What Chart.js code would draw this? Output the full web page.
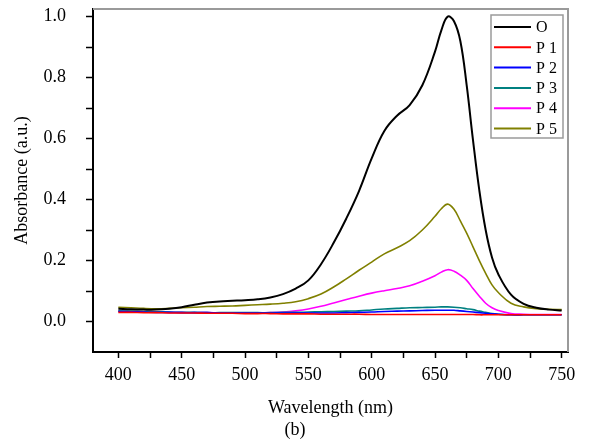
<!DOCTYPE html>
<html lang="en">
<head>
  <meta charset="UTF-8">
  <title>Absorbance spectra</title>
  <script src="https://cdn.jsdelivr.net/npm/chart.js"></script>
  <style>
    body { margin: 0; background: #fff; }
  </style>
</head>
<body>
  <canvas id="grafico" width="590" height="442"></canvas>

  <script>
    // wavelengths (nm) shared by every curve
    const wavelengths = [400,410,420,430,440,450,460,470,480,490,500,510,520,530,540,550,560,570,580,590,600,610,620,630,640,650,655,660,665,670,675,680,685,690,695,700,710,720,730,740,750];

    const seriesNames = ['O', 'P 1', 'P 2', 'P 3', 'P 4', 'P 5'];
    const seriesColors = ['#000000', '#ff0000', '#0000ff', '#008080', '#ff00ff', '#808000'];

    const absO  = [0.042,0.040,0.039,0.039,0.042,0.047,0.055,0.062,0.066,0.068,0.070,0.073,0.079,0.090,0.108,0.135,0.188,0.258,0.338,0.428,0.535,0.625,0.675,0.710,0.775,0.885,0.955,1.000,0.985,0.920,0.775,0.595,0.430,0.300,0.210,0.155,0.088,0.058,0.045,0.039,0.036];
    const absP1 = [0.030,0.030,0.029,0.029,0.028,0.028,0.028,0.027,0.027,0.027,0.026,0.026,0.026,0.025,0.025,0.025,0.024,0.024,0.024,0.024,0.023,0.023,0.023,0.023,0.023,0.023,0.023,0.023,0.023,0.023,0.023,0.023,0.022,0.022,0.022,0.022,0.022,0.022,0.022,0.022,0.022];
    const absP2 = [0.033,0.032,0.031,0.030,0.030,0.029,0.029,0.029,0.028,0.028,0.028,0.028,0.028,0.028,0.028,0.028,0.028,0.028,0.029,0.030,0.031,0.033,0.034,0.035,0.036,0.037,0.037,0.037,0.037,0.035,0.033,0.031,0.029,0.027,0.025,0.024,0.022,0.022,0.022,0.022,0.022];
    const absP3 = [0.035,0.034,0.033,0.032,0.031,0.030,0.030,0.029,0.029,0.029,0.029,0.029,0.029,0.030,0.030,0.031,0.032,0.033,0.034,0.035,0.038,0.041,0.043,0.045,0.046,0.047,0.048,0.048,0.047,0.045,0.042,0.039,0.034,0.030,0.026,0.024,0.022,0.022,0.022,0.022,0.022];
    const absP4 = [0.034,0.033,0.032,0.031,0.030,0.030,0.029,0.029,0.028,0.028,0.028,0.028,0.029,0.031,0.035,0.041,0.050,0.061,0.072,0.083,0.093,0.101,0.108,0.117,0.132,0.150,0.162,0.170,0.165,0.152,0.135,0.108,0.083,0.060,0.045,0.036,0.026,0.024,0.023,0.023,0.023];
    const absP5 = [0.047,0.045,0.043,0.042,0.043,0.045,0.047,0.049,0.050,0.051,0.053,0.055,0.057,0.060,0.065,0.075,0.090,0.113,0.140,0.168,0.195,0.222,0.242,0.265,0.300,0.345,0.370,0.385,0.368,0.330,0.290,0.245,0.200,0.158,0.120,0.095,0.060,0.048,0.042,0.040,0.039];
    const allSeries = [absO, absP1, absP2, absP3, absP4, absP5];

    const xTickValues = [400,425,450,475,500,525,550,575,600,625,650,675,700,725,750];
    const yTickValues = [0,0.1,0.2,0.3,0.4,0.5,0.6,0.7,0.8,0.9,1.0];

    const serif = '"Liberation Serif", "DejaVu Serif", serif';

    // legenda con riquadro dentro l'area del grafico + cornice grigia sopra/destra
    const framePlugin = {
      id: 'frame',
      afterDraw(chart) {
        const c = chart.ctx;
        const a = chart.chartArea;
        c.save();
        c.strokeStyle = '#9a9a9a';
        c.lineWidth = 2;
        c.beginPath();
        c.moveTo(a.left, a.top);
        c.lineTo(a.right, a.top);
        c.lineTo(a.right, a.bottom);
        c.stroke();

        // legend box
        const bx = 491, by = 15, bw = 72, bh = 123;
        c.fillStyle = '#fff';
        c.fillRect(bx, by, bw, bh);
        c.lineWidth = 1.5;
        c.strokeRect(bx, by, bw, bh);
        c.font = '16px ' + serif;
        c.textBaseline = 'middle';
        chart.data.datasets.forEach((ds, i) => {
          const y = by + 12 + i * 20.3;
          c.strokeStyle = ds.borderColor;
          c.lineWidth = 2;
          c.beginPath();
          c.moveTo(bx + 3, y);
          c.lineTo(bx + 40, y);
          c.stroke();
          c.fillStyle = '#000';
          c.fillText(ds.label, bx + 45, y + 1);
        });

        // (b)
        c.font = '18px ' + serif;
        c.textAlign = 'center';
        c.fillStyle = '#000';
        c.fillText('(b)', 295, 430);
        c.restore();
      }
    };

    const ctx = document.getElementById('grafico').getContext('2d');
    const chart = new Chart(ctx, {
      type: 'line',
      data: {
        datasets: allSeries.map((vals, i) => ({
          label: seriesNames[i],
          data: wavelengths.map((w, j) => ({ x: w, y: vals[j] })),
          borderColor: seriesColors[i],
          borderWidth: i === 0 ? 2 : 1.6,
          pointRadius: 0,
          tension: 0.4,
          fill: false
        }))
      },
      options: {
        animation: false,
        responsive: false,
        layout: { padding: { left: 0, top: 9, right: 22, bottom: 0 } },
        plugins: {
          legend: { display: false },
          tooltip: { enabled: false }
        },
        scales: {
          x: {
            type: 'linear',
            min: 380,
            max: 755,
            afterBuildTicks: s => { s.ticks = xTickValues.map(v => ({ value: v })); },
            afterFit: s => { s.height = 90; s.paddingLeft = 0; s.paddingRight = 0; },
            grid: { drawOnChartArea: false, tickLength: 6, tickColor: '#000', tickWidth: 1.5 },
            border: { color: '#000', width: 2 },
            ticks: {
              autoSkip: false,
              maxRotation: 0,
              padding: 6,
              color: '#000',
              font: { family: serif, size: 18 },
              callback: v => (v % 50 === 0 ? String(v) : '')
            },
            title: {
              display: true,
              text: 'Wavelength (nm)',
              color: '#000',
              font: { family: serif, size: 18 },
              padding: { top: 0, bottom: 23 }
            }
          },
          y: {
            min: -0.1,
            max: 1.025,
            afterBuildTicks: s => { s.ticks = yTickValues.map(v => ({ value: v })); },
            afterFit: s => { s.width = 93; s.paddingTop = 0; s.paddingBottom = 0; },
            grid: { drawOnChartArea: false, tickLength: 7, tickColor: '#000', tickWidth: 1.5 },
            border: { color: '#000', width: 2 },
            ticks: {
              autoSkip: false,
              padding: 20,
              color: '#000',
              font: { family: serif, size: 18 },
              callback: v => (Math.round(v * 10) % 2 === 0 ? v.toFixed(1) : '')
            },
            title: {
              display: true,
              text: 'Absorbance (a.u.)',
              color: '#000',
              font: { family: serif, size: 18 },
              padding: { top: 11, bottom: 0 }
            }
          }
        }
      },
      plugins: [framePlugin]
    });
  </script>
</body>
</html>
